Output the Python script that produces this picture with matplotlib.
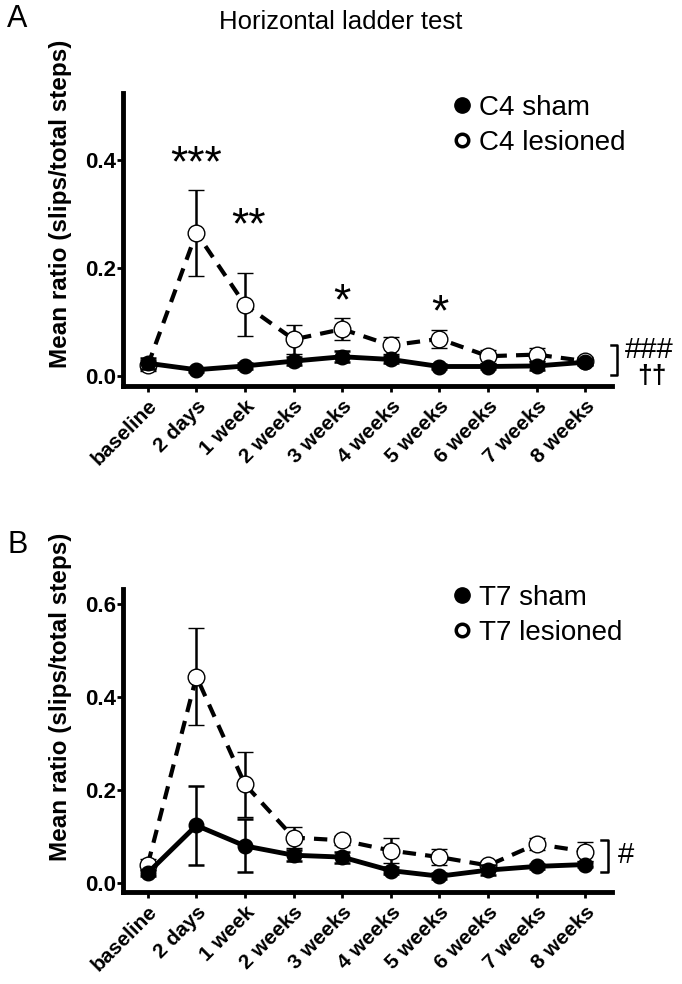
import matplotlib
matplotlib.use("Agg")
import matplotlib.pyplot as plt
import matplotlib.transforms as mtransforms
from matplotlib.lines import Line2D
import numpy as np

plt.rcParams['font.family'] = ['Liberation Sans', 'DejaVu Sans']

categories = ["baseline", "2 days", "1 week", "2 weeks", "3 weeks", "4 weeks",
              "5 weeks", "6 weeks", "7 weeks", "8 weeks"]

# Panel A (C4)
c4_sham = [0.024, 0.012, 0.019, 0.028, 0.036, 0.031, 0.018, 0.018, 0.019, 0.026]
c4_sham_err = [0.010, 0.004, 0.005, 0.007, 0.010, 0.006, 0.005, 0.005, 0.007, 0.006]
c4_les = [0.020, 0.265, 0.132, 0.068, 0.087, 0.057, 0.069, 0.037, 0.040, 0.028]
c4_les_err = [0.010, 0.079, 0.058, 0.026, 0.020, 0.015, 0.016, 0.012, 0.012, 0.008]
c4_stars = {1: "***", 2: "**", 4: "*", 6: "*"}
c4_star_y = {1: 0.39, 2: 0.275, 4: 0.135, 6: 0.116}

# Panel B (T7)
t7_sham = [0.022, 0.124, 0.080, 0.060, 0.056, 0.027, 0.015, 0.028, 0.036, 0.040]
t7_sham_err = [0.006, 0.084, 0.057, 0.012, 0.012, 0.008, 0.006, 0.010, 0.006, 0.006]
t7_les = [0.040, 0.444, 0.212, 0.098, 0.092, 0.070, 0.056, 0.038, 0.084, 0.068]
t7_les_err = [0.012, 0.104, 0.070, 0.022, 0.010, 0.027, 0.018, 0.010, 0.012, 0.020]

W, H = 682, 984
fig = plt.figure(figsize=(W / 100, H / 100), dpi=100)

def px_axes(left, top, right, bottom):
    return fig.add_axes([left / W, 1 - bottom / H, (right - left) / W, (bottom - top) / H])

x = np.arange(len(categories))
offset = mtransforms.ScaledTranslation(-5 / 100, -6 / 100, fig.dpi_scale_trans)

def draw_panel(ax, sham, sham_err, les, les_err, ylim, yticks, labels, leg_y):
    ax.errorbar(x, les, yerr=les_err, fmt='o', ls=(0, (3.2, 2.2)), color='black', lw=3,
                mfc='white', mec='black', mew=1.0, ms=12, ecolor='black',
                elinewidth=1.8, capsize=6, capthick=1.8, zorder=2)
    ax.errorbar(x, sham, yerr=sham_err, fmt='o', ls='-', color='black', lw=3.5,
                mfc='black', mec='black', ms=10.5, ecolor='black',
                elinewidth=1.8, capsize=6, capthick=1.8, zorder=3)
    ax.set_xlim(-0.51, 9.55)
    ax.set_ylim(*ylim)
    ax.set_yticks(yticks)
    ax.set_yticklabels([f"{t:.1f}" for t in yticks], fontsize=16, fontweight='bold')
    ax.set_xticks(x)
    ax.set_xticklabels(categories, rotation=45, ha='right', rotation_mode='anchor',
                       fontsize=15, fontweight='bold')
    for lab in ax.get_xticklabels():
        lab.set_transform(lab.get_transform() + offset)
    for s in ['top', 'right']:
        ax.spines[s].set_visible(False)
    for s in ['left', 'bottom']:
        ax.spines[s].set_linewidth(3.5)
    ax.tick_params(axis='both', length=4, width=2)
    ax.tick_params(axis='y', pad=1)
    ax.set_ylabel("Mean ratio (slips/total steps)", fontsize=17.5, fontweight='bold')
    h1 = Line2D([], [], ls='none', marker='o', color='black', ms=11)
    h2 = Line2D([], [], ls='none', marker='o', mfc='white', mec='black', mew=2.5, ms=9)
    ax.legend([h1, h2], labels, loc='center left', bbox_to_anchor=(0.677, leg_y),
              frameon=False, fontsize=20, handlelength=0.6, handletextpad=0.3,
              labelspacing=0.32, borderaxespad=0, borderpad=0)

# Panel A
axA = px_axes(123, 93, 612, 386)
draw_panel(axA, c4_sham, c4_sham_err, c4_les, c4_les_err, (-0.018, 0.523),
           [0.0, 0.2, 0.4], ["C4 sham", "C4 lesioned"], 0.89)
axA.yaxis.set_label_coords(-0.105, 0.621)
for i, s in c4_stars.items():
    axA.text(x[i] + (0.08 if i == 2 else 0), c4_star_y[i], s, ha='center', va='center',
             fontsize=32)
axA.plot([9.52, 9.65, 9.65, 9.52], [0.057, 0.057, 0.002, 0.002], color='black', lw=1.8,
         clip_on=False)
axA.text(9.81, 0.048, "###", fontsize=21, va='center', ha='left')
axA.text(10.37, 0.0, "††", fontsize=19, va='center', ha='center', fontweight='bold')

# Panel B
axB = px_axes(123, 589, 612, 892)
draw_panel(axB, t7_sham, t7_sham_err, t7_les, t7_les_err, (-0.019, 0.632),
           [0.0, 0.2, 0.4, 0.6], ["T7 sham", "T7 lesioned"], 0.913)
axB.yaxis.set_label_coords(-0.105, 0.644)
axB.plot([9.33, 9.46, 9.46, 9.33], [0.092, 0.092, 0.024, 0.024], color='black', lw=1.8,
         clip_on=False)
axB.text(9.67, 0.06, "#", fontsize=21, va='center', ha='left')

fig.text(341 / W, 1 - 22 / H, "Horizontal ladder test", ha='center', va='center', fontsize=18.5)
fig.text(7 / W, 1 - 19 / H, "A", ha='left', va='center', fontsize=22)
fig.text(7 / W, 1 - 545 / H, "B", ha='left', va='center', fontsize=22)

fig.savefig("out.png", dpi=100)
